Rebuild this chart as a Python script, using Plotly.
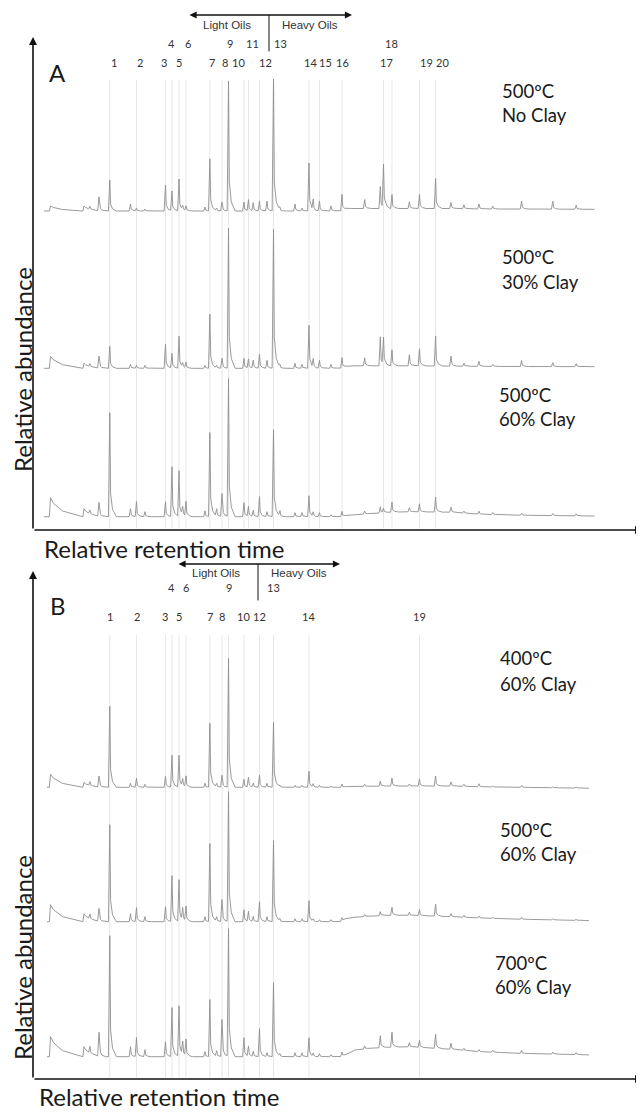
import numpy as np
import plotly.graph_objects as go

# ---------------- DATA ----------------
# relative retention time of resolved peaks (0 = start of run, 1 = end of run)
peak_rt = [0.0118, 0.0727, 0.0836, 0.1000, 0.1196, 0.1573, 0.1682, 0.1836, 0.2209, 0.2327,
           0.2455, 0.2522, 0.2582, 0.2927, 0.3016, 0.3140, 0.3236, 0.3355, 0.3636, 0.3718,
           0.3805, 0.3918, 0.4055, 0.4173, 0.4291, 0.4564, 0.4691, 0.4818, 0.4896, 0.5009,
           0.5218, 0.5418, 0.5831, 0.6115, 0.6173, 0.6327, 0.6644, 0.6827, 0.7120, 0.7400,
           0.7636, 0.7909, 0.8160, 0.8684, 0.9251, 0.9676]

# peak heights (relative abundance, arbitrary units) for each run
A_500_noclay = [5, 5, 3, 14, 31, 7, 3, 2, 26, 20, 32, 4, 5, 4, 52, 3, 9, 130, 9, 11,
                8, 10, 10, 132, 4, 7, 3, 48, 10, 10, 5, 16, 9, 22, 43, 14, 7, 14, 30, 6,
                4, 5, 3, 8, 8, 4]
A_500_30clay = [12, 5, 3, 12, 22, 4, 3, 3, 24, 15, 32, 4, 6, 3, 54, 3, 10, 140, 10, 9,
                8, 14, 8, 139, 4, 5, 4, 43, 8, 8, 4, 10, 8, 29, 27, 16, 11, 17, 30, 10,
                3, 5, 2, 6, 4, 3]
A_500_60clay = [19, 8, 4, 14, 104, 8, 15, 5, 15, 50, 46, 8, 15, 6, 84, 8, 23, 138, 14, 10,
                6, 20, 5, 87, 6, 4, 4, 21, 4, 4, 2, 5, 3, 6, 4, 10, 4, 8, 15, 5,
                2, 3, 2, 2, 2, 2]
B_400_60clay = [13, 5, 4, 11, 81, 4, 9, 3, 11, 32, 32, 7, 11, 4, 64, 4, 12, 129, 8, 10,
                4, 12, 4, 65, 2, 2, 2, 16, 3, 2, 1, 3, 2, 5, 0, 8, 2, 7, 10, 4,
                2, 3, 1, 2, 1, 1]
B_500_60clay = [17, 8, 5, 13, 97, 8, 14, 5, 15, 46, 42, 12, 15, 5, 78, 5, 22, 130, 12, 10,
                5, 20, 5, 81, 3, 3, 3, 21, 2, 2, 2, 3, 2, 4, 0, 8, 3, 6, 12, 3,
                2, 2, 1, 2, 1, 1]
B_700_60clay = [20, 10, 7, 24, 121, 10, 19, 7, 15, 49, 51, 13, 17, 5, 57, 6, 37, 128, 19, 10,
                5, 28, 4, 74, 3, 4, 4, 19, 3, 3, 2, 4, 3, 12, 0, 15, 4, 7, 14, 6,
                2, 2, 2, 3, 2, 2]

# baseline drift (unresolved hump) for each run
baseline_rt = [0.0, 0.1018, 0.5382, 0.5490, 0.5655, 0.5927, 0.6291, 0.6655, 0.7418, 0.7927, 0.8655, 1.0]
A_500_noclay_base = [0, 0, 0, 2, 2.5, 2.5, 2.5, 2.5, 2.5, 2, 2, 1.7]
A_500_30clay_base = [0, 0, 0, 2, 2.5, 2.5, 2.5, 2.5, 2.2, 2, 1.8, 1.6]
A_500_60clay_base = [0, 0, 0, 1, 2, 3, 4.5, 5, 4.5, 2.5, 1.5, 0.7]
B_400_60clay_base = [0, 0, 0, 0.5, 1, 1, 1.3, 1.3, 1.3, 0.5, 0, -1]
B_500_60clay_base = [0, 0, 0, 3, 4.5, 5.5, 6.5, 6.5, 5, 3.7, 2.5, 1]
B_700_60clay_base = [0, 0, 0, 2, 6.7, 8.4, 9.5, 10, 7.4, 5, 3.4, 1.7]

# identified compounds
compound_ids = ["1", "2", "3", "4", "5", "6", "7", "8", "9", "10",
                "11", "12", "13", "14", "15", "16", "17", "18", "19", "20"]
compound_rt = [0.1196, 0.1682, 0.2209, 0.2327, 0.2455, 0.2582, 0.3016, 0.3236, 0.3355, 0.3636,
               0.3718, 0.3918, 0.4173, 0.4818, 0.5009, 0.5418, 0.6173, 0.6327, 0.6827, 0.7120]
panel_B_compounds = ["1", "2", "3", "4", "5", "6", "7", "8", "9", "10", "12", "13", "14", "19"]

run_labels_A = [("500ºC", "No Clay"), ("500ºC", "30% Clay"), ("500ºC", "60% Clay")]
run_labels_B = [("400ºC", "60% Clay"), ("500ºC", "60% Clay"), ("700ºC", "60% Clay")]

# ---------------- STYLE / LAYOUT ----------------
PAGE_W, PAGE_H = 644, 1115
OFF = 8                                # default page margin around the plot
W, H = PAGE_W - OFF, PAGE_H - OFF
X0_PX, X_SCALE = 44.0, 550.0           # page px of rt=0 and px per rt unit
TRACE_COLOR = "#8e8e8e"
GUIDE_COLOR = "#e6e6e6"
FONT_MAIN = "Lato"
FONT_ARIAL = "Liberation Sans"


def rt_of_px(p):
    return (p - X0_PX) / X_SCALE


def pxx(p):
    return (p - OFF) / W


def pxy(p):
    return 1 - (p - OFF) / H


# peak shape (rise / tail) in rt units
SHAPE_DX = [-0.0025, 0.0, 0.0015, 0.005, 0.012]
SHAPE_DY = [0.0, 1.0, 0.22, 0.07, 0.0]
LONG_TAIL = {0: 0.055, 1: 0.03}   # slowly decaying early signals


def build_trace(heights, base, span):
    xs = set(baseline_rt)
    shapes = []
    for i, (t, h) in enumerate(zip(peak_rt, heights)):
        if i in LONG_TAIL:
            L = LONG_TAIL[i]
            dx = [-0.002, 0.0, 0.1 * L, 0.4 * L, L]
            dy = [0.0, 1.0, 0.7, 0.3, 0.0]
        else:
            dx, dy = SHAPE_DX, SHAPE_DY
        shapes.append((t, h, dx, dy))
        for d in dx:
            xs.add(t + d)
    xs.add(span[0])
    xs.add(span[1])
    xs = np.array(sorted(x for x in xs if span[0] <= x <= span[1]))
    ys = np.interp(xs, baseline_rt, base)
    for t, h, dx, dy in shapes:
        ys = ys + h * np.interp(xs - t, dx, dy, left=0.0, right=0.0)
    return xs, ys


fig = go.Figure()

panels = [
    dict(xa="x", ya="y", y0_px=530, guide_top_px=80, span=(0.0, 1.001),
         runs=[(A_500_noclay, A_500_noclay_base, 211.0),
               (A_500_30clay, A_500_30clay_base, 368.3),
               (A_500_60clay, A_500_60clay_base, 516.7)],
         ids=compound_ids),
    dict(xa="x2", ya="y2", y0_px=1079, guide_top_px=635, span=(0.0055, 0.991),
         runs=[(B_400_60clay, B_400_60clay_base, 787.3),
               (B_500_60clay, B_500_60clay_base, 921.7),
               (B_700_60clay, B_700_60clay_base, 1056.7)],
         ids=panel_B_compounds),
]

for p in panels:
    gx, gy = [], []
    top = p["y0_px"] - p["guide_top_px"]
    for cid in p["ids"]:
        t = compound_rt[compound_ids.index(cid)]
        gx += [t, t, None]
        gy += [1.5, top, None]
    fig.add_trace(go.Scatter(x=gx, y=gy, mode="lines", xaxis=p["xa"], yaxis=p["ya"],
                             line=dict(color=GUIDE_COLOR, width=1), hoverinfo="skip",
                             showlegend=False))
    for heights, base, base_px in p["runs"]:
        xs, ys = build_trace(heights, base, p["span"])
        offset = p["y0_px"] - base_px
        fig.add_trace(go.Scatter(x=xs, y=ys + offset, mode="lines", xaxis=p["xa"],
                                 yaxis=p["ya"], line=dict(color=TRACE_COLOR, width=0.9),
                                 hoverinfo="skip", showlegend=False))

ann = []


def text(x_px, y_px, s, size, family=FONT_MAIN, xanchor="center", color="#1a1a1a", angle=0):
    ann.append(dict(x=pxx(x_px), y=pxy(y_px), xref="paper", yref="paper", text=s,
                    showarrow=False, xanchor=xanchor, yanchor="middle", textangle=angle,
                    font=dict(size=size, family=family, color=color)))


def arrow(x_tip, y_tip, x_tail, y_tail, side="end", width=1.6, size=1.0, head=2):
    ann.append(dict(x=pxx(x_tip), y=pxy(y_tip), ax=x_tail - x_tip, ay=y_tail - y_tip,
                    xref="paper", yref="paper", axref="pixel", ayref="pixel",
                    text="", showarrow=True, arrowhead=head, startarrowhead=head,
                    arrowside=side, arrowwidth=width, arrowsize=size, startarrowsize=size,
                    arrowcolor="#111", standoff=0, startstandoff=0))


# ---- panel A decorations
arrow(33, 37, 33, 530)                 # y axis
arrow(643, 530, 33, 530)               # x axis
text(57.5, 72, "A", 24)
text(42, 548, "Relative retention time", 24, xanchor="left")
text(22, 370, "Relative abundance", 24, angle=-90)
arrow(352, 15, 188, 15, side="end+start", width=1.3, size=1.1)
arrow(269, 15, 269, 53, width=1, head=0)
text(227, 25, "Light Oils", 11.5, family=FONT_ARIAL, color="#333")
text(310, 25, "Heavy Oils", 11.5, family=FONT_ARIAL, color="#333")

label_shift_A = {"1": 4, "2": 3, "3": -1, "4": 0, "5": 0, "6": 2, "7": 2, "8": 3, "9": 1,
                 "10": -5, "11": 4, "12": 6, "13": 7, "14": 2, "15": 6, "16": 1, "17": 3,
                 "18": 0, "19": 7, "20": 7}
upper_A = {"4", "6", "9", "11", "13", "18"}
for cid, t in zip(compound_ids, compound_rt):
    x_px = X0_PX + X_SCALE * t + label_shift_A[cid]
    text(x_px, 43 if cid in upper_A else 62, cid, 11, color="#333")

for (temp, clay), (y1, y2, xl) in zip(run_labels_A, [(91, 115, 500), (257, 282, 500), (395, 419, 497)]):
    text(xl, y1, temp, 18.5, xanchor="left")
    text(xl, y2, clay, 18.5, xanchor="left")

# ---- panel B decorations
arrow(33, 571, 33, 1079)
arrow(643, 1079, 33, 1079)
text(57.5, 605, "B", 24)
text(37, 1096, "Relative retention time", 24, xanchor="left")
text(22, 958, "Relative abundance", 24, angle=-90)
arrow(340, 564, 177, 564, side="end+start", width=1.3, size=1.1)
arrow(258, 564, 258, 602, width=1, head=0)
text(216, 573, "Light Oils", 11.5, family=FONT_ARIAL, color="#333")
text(299, 573, "Heavy Oils", 11.5, family=FONT_ARIAL, color="#333")

upper_B = {"4", "6", "9", "13"}
for cid in panel_B_compounds:
    t = compound_rt[compound_ids.index(cid)]
    x_px = X0_PX + X_SCALE * t
    text(x_px, 587 if cid in upper_B else 616, cid, 11, color="#333")

for (temp, clay), (y1, y2, xl) in zip(run_labels_B, [(658, 684, 498), (830, 854, 498), (963, 987, 493)]):
    text(xl, y1, temp, 18.5, xanchor="left")
    text(xl, y2, clay, 18.5, xanchor="left")

# axes: page px -> paper domains; data y = baseline px - page px
SPLIT_PX = 557.5
xr = [rt_of_px(OFF), rt_of_px(PAGE_W)]
axis_common = dict(visible=False, showgrid=False, zeroline=False, fixedrange=True)
fig.update_layout(
    width=W, height=H, autosize=False,
    margin=dict(l=0, r=0, t=0, b=0),
    paper_bgcolor="white", plot_bgcolor="white",
    showlegend=False,
    xaxis=dict(domain=[0, 1], range=xr, anchor="y", **axis_common),
    yaxis=dict(domain=[pxy(SPLIT_PX), 1], range=[530 - SPLIT_PX, 530 - OFF], anchor="x", **axis_common),
    xaxis2=dict(domain=[0, 1], range=xr, anchor="y2", **axis_common),
    yaxis2=dict(domain=[0, pxy(SPLIT_PX)], range=[1079 - PAGE_H, 1079 - SPLIT_PX], anchor="x2", **axis_common),
    annotations=ann,
)

fig.write_html("out.html")
